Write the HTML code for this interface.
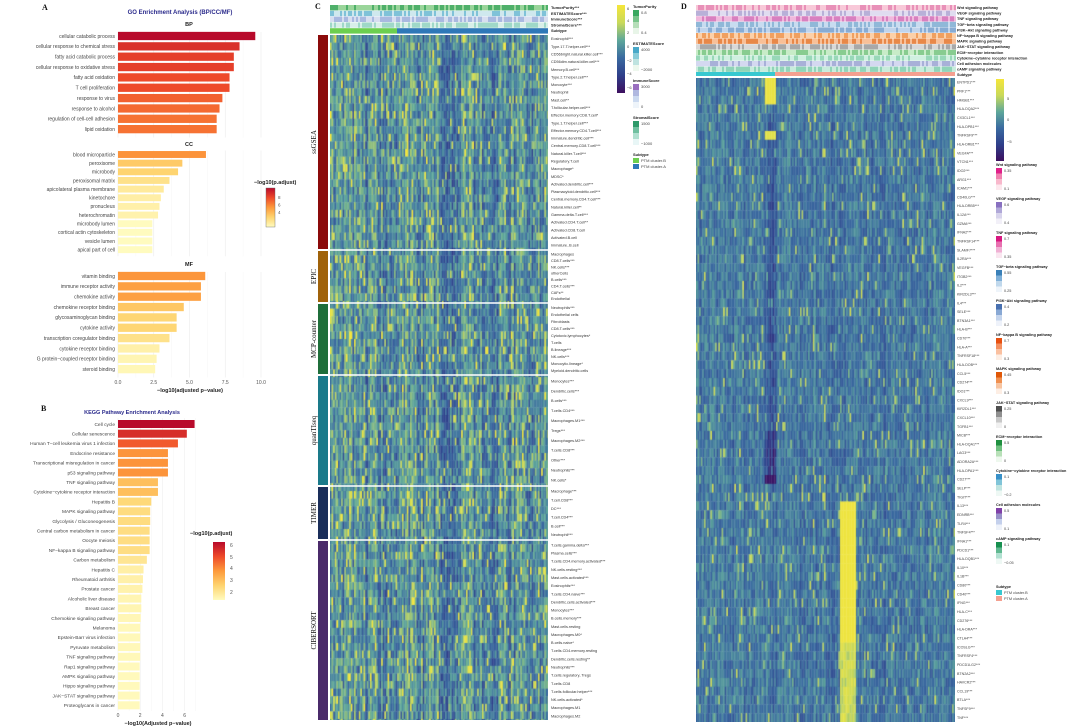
<!DOCTYPE html>
<html><head><meta charset="utf-8">
<style>
body{margin:0;width:1080px;height:728px;background:#fff;position:relative;overflow:hidden;font-family:"Liberation Sans",sans-serif}
canvas{position:absolute}
svg{position:absolute;left:0;top:0}
</style></head>
<body>
<canvas id="hmC" style="left:330px;top:35px" width="218" height="685"></canvas>
<canvas id="hmD" style="left:696px;top:78px" width="259" height="644"></canvas>
<svg id="fig" width="1080" height="728"></svg>
<script>
// ---------- Panel A data ----------
const bpTerms=["cellular catabolic process","cellular response to chemical stress","fatty acid catabolic process","cellular response to oxidative stress","fatty acid oxidation","T cell proliferation","response to virus","response to alcohol","regulation of cell-cell adhesion","lipid oxidation"];
const bpValues=[9.6,8.5,8.1,8.1,7.8,7.8,7.3,7.1,6.9,6.9];
const ccTerms=["blood microparticle","peroxisome","microbody","peroxisomal matrix","apicolateral plasma membrane","kinetochore","pronucleus","heterochromatin","microbody lumen","cortical actin cytoskeleton","vesicle lumen","apical part of cell"];
const ccValues=[6.15,4.5,4.2,3.6,3.2,3.0,2.9,2.8,2.4,2.4,2.4,2.4];
const mfTerms=["vitamin binding","immune receptor activity","chemokine activity","chemokine receptor binding","glycosaminoglycan binding","cytokine activity","transcription coregulator binding","cytokine receptor binding","G protein\u2212coupled receptor binding","steroid binding"];
const mfValues=[6.1,5.8,5.8,4.6,4.1,4.1,3.6,2.9,2.7,2.6];
const goTicks=[0,2.5,5,7.5,10];
const goTickLabels=["0.0","2.5","5.0","7.5","10.0"];
// ---------- Panel B data ----------
const keggTerms=["Cell cycle","Cellular senescence","Human T\u2212cell leukemia virus 1 infection","Endocrine resistance","Transcriptional misregulation in cancer","p53 signaling pathway","TNF signaling pathway","Cytokine\u2212cytokine receptor interaction","Hepatitis B","MAPK signaling pathway","Glycolysis / Gluconeogenesis","Central carbon metabolism in cancer","Oocyte meiosis","NF\u2212kappa B signaling pathway","Carbon metabolism","Hepatitis C","Rheumatoid arthritis","Prostate cancer","Alcoholic liver disease","Breast cancer","Chemokine signaling pathway","Melanoma","Epstein-Barr virus infection","Pyruvate metabolism","TNF signaling pathway","Rap1 signaling pathway","AMPK signaling pathway","Hippo signaling pathway","JAK\u2212STAT signaling pathway","Proteoglycans in cancer"];
const keggValues=[6.9,6.2,5.4,4.5,4.5,4.5,3.6,3.6,3.0,2.9,2.9,2.85,2.85,2.85,2.6,2.3,2.25,2.2,2.1,2.1,2.05,2.0,2.0,2.0,2.0,1.95,1.95,1.95,1.95,1.95];
const keggTicks=[0,2,4,6];

const NS="http://www.w3.org/2000/svg";
const svg=document.getElementById('fig');
function el(tag,attrs,parent){const e=document.createElementNS(NS,tag);for(const k in attrs)e.setAttribute(k,attrs[k]);(parent||svg).appendChild(e);return e;}
function txt(s,x,y,size,attrs,parent){const t=el('text',Object.assign({x:x,y:y,'font-size':size,fill:'#333','font-family':'Liberation Sans, sans-serif'},attrs||{}),parent);t.textContent=s;return t;}
function hex(c){return [parseInt(c.slice(1,3),16),parseInt(c.slice(3,5),16),parseInt(c.slice(5,7),16)];}
const ylStops=["#fffbbf","#fed470","#fd9a3c","#ee4a2a","#b80a2b"];
function ylOrRd(t){t=Math.max(0,Math.min(1,t));const p=t*(ylStops.length-1),i=Math.min(Math.floor(p),ylStops.length-2),f=p-i;const a=hex(ylStops[i]),b=hex(ylStops[i+1]);return 'rgb('+a.map((v,k)=>Math.round(v+(b[k]-v)*f)).join(',')+')';}

// ---------- Panel A ----------
const gA=el('g',{});

txt('A',42,10,8,{'font-weight':'bold','font-family':'Liberation Serif, serif',fill:'#111'},gA);
txt('GO Enrichment Analysis (BP/CC/MF)',180,14,6,{'text-anchor':'middle','font-weight':'bold',fill:'#2b2b8c'},gA);
const ax0=118, ax1=261, aMax=10;
const xA=v=>ax0+(ax1-ax0)*v/aMax;
const aMin=2.4,aTop=9.6;
function facet(name,terms,vals,y0,step,header){
  const g=el('g',{},gA);
  
  txt(name,189,header,5.5,{'text-anchor':'middle','font-weight':'bold',fill:'#222'},g);
  const yEnd=y0+step*terms.length;
  goTicks.forEach(t=>el('line',{x1:xA(t),x2:xA(t),y1:y0-4,y2:yEnd-2,stroke:'#ebebeb','stroke-width':0.6},g));
  [1.25,3.75,6.25,8.75].forEach(t=>el('line',{x1:xA(t),x2:xA(t),y1:y0-4,y2:yEnd-2,stroke:'#f4f4f4','stroke-width':0.4},g));
  terms.forEach((s,i)=>{const y=y0+i*step;
    const r=el('rect',{x:xA(0),y:y-step*0.4,width:xA(vals[i])-xA(0),height:step*0.8,fill:ylOrRd((vals[i]-aMin)/(aTop-aMin))},g);
    
    txt(s,115,y+1.8,5,{'text-anchor':'end',fill:'#444'},g);});
}
facet('BP',bpTerms,bpValues,36,10.35,26);
facet('CC',ccTerms,ccValues,154.5,8.65,146);
facet('MF',mfTerms,mfValues,276,10.35,266);
goTicks.forEach((t,i)=>txt(goTickLabels[i],xA(t),384,5,{'text-anchor':'middle',fill:'#555'},gA));
const xtA=txt('\u2212log10(adjusted p\u2212value)',190,392,5.5,{'text-anchor':'middle','font-weight':'bold',fill:'#222'},gA);

const defs=el('defs',{});
const lg=el('linearGradient',{id:'ylg',x1:0,y1:1,x2:0,y2:0},defs);
ylStops.forEach((c,i)=>el('stop',{offset:i/(ylStops.length-1),'stop-color':c},lg));
const legA=el('g',{},gA);
txt('\u2212log10(p.adjust)',254,184,5.5,{'font-weight':'bold',fill:'#222'},legA);
el('rect',{x:266,y:188,width:9,height:39,fill:'url(#ylg)',stroke:'#666','stroke-width':0.4},legA);
[[8,199],[6,206.5],[4,214]].forEach(([v,y])=>txt(String(v),278,y,4.5,{fill:'#555'},legA));

// ---------- Panel B ----------
const gB=el('g',{});
txt('B',41,411,8,{'font-weight':'bold','font-family':'Liberation Serif, serif',fill:'#111'},gB);
txt('KEGG Pathway Enrichment Analysis',132,414,5.5,{'text-anchor':'middle','font-weight':'bold',fill:'#2b2b8c'},gB);
const bx0=118, bPer=11.1;
const xB=v=>bx0+bPer*v;
const by0=424, bstep=9.7, bEnd=by0+bstep*keggTerms.length;
[0,1,2,3,4,5,6,7].forEach(t=>el('line',{x1:xB(t),x2:xB(t),y1:by0-6,y2:bEnd-4,stroke:t%2?'#f4f4f4':'#ebebeb','stroke-width':0.5},gB));
keggTerms.forEach((s,i)=>{const y=by0+i*bstep;
  const r=el('rect',{x:xB(0),y:y-4,width:xB(keggValues[i])-xB(0),height:8,fill:ylOrRd((keggValues[i]-1.9)/(6.9-1.9))},gB);
  
  txt(s,115,y+1.8,4.8,{'text-anchor':'end',fill:'#444'},gB);});
keggTicks.forEach(t=>txt(String(t),xB(t),717,5,{'text-anchor':'middle',fill:'#555'},gB));
const xtB=txt('\u2212log10(Adjusted p\u2212value)',158,725,5.5,{'text-anchor':'middle','font-weight':'bold',fill:'#222'},gB);

const legB=el('g',{},gB);
txt('\u2212log10(p.adjust)',190,535,5.5,{'font-weight':'bold',fill:'#222'},legB);
el('rect',{x:213,y:542,width:12,height:58,fill:'url(#ylg)'},legB);
[[6,547],[5,559],[4,570],[3,582],[2,594]].forEach(([v,y])=>txt(String(v),230,y,5,{fill:'#555'},legB));

// ---------- Panel C ----------
const gC=el('g',{});
txt('C',315,9,8,{'font-weight':'bold','font-family':'Liberation Serif, serif',fill:'#111'},gC);
const cGroups=[
 {name:'ssGSEA',y0:35,y1:249,color:'#8b0a0a',labels:["Eosinophil***","Type.17.T.helper.cell***","CD56bright.natural.killer.cell***","CD56dim.natural.killer.cell***","Memory.B.cell***","Type.2.T.helper.cell***","Monocyte***","Neutrophil","Mast.cell**","T.follicular.helper.cell***","Effector.memory.CD8.T.cell*","Type.1.T.helper.cell***","Effector.memory.CD4.T.cell***","Immature.dendritic.cell***","Central.memory.CD8.T.cell***","Natural.killer.T.cell***","Regulatory.T.cell","Macrophage*","MDSC*","Activated.dendritic.cell***","Plasmacytoid.dendritic.cell***","Central.memory.CD4.T.cell***","Natural.killer.cell**","Gamma.delta.T.cell***","Activated.CD4.T.cell**","Activated.CD8.T.cell","Activated.B.cell","Immature..B.cell"]},
 {name:'EPIC',y0:251,y1:302,color:'#a0620a',labels:["Macrophages","CD8.T.cells***","NK.cells***","otherCells","B.cells***","CD4.T.cells***","CAFs**","Endothelial"]},
 {name:'MCP-counter',y0:304,y1:374,color:'#1f6e3a',labels:["Neutrophils***","Endothelial cells","Fibroblasts","CD8.T.cells***","Cytotoxic.lymphocytes*","T.cells","B.lineage***","NK.cells***","Monocytic.lineage*","Myeloid.dendritic.cells"]},
 {name:'quanTIseq',y0:376,y1:485,color:'#1a7a8a',labels:["Monocytes***","Dendritic.cells***","B.cells***","T.cells.CD4***","Macrophages.M1***","Tregs***","Macrophages.M2***","T.cells.CD8***","Other***","Neutrophils***","NK.cells*"]},
 {name:'TIMER',y0:487,y1:539,color:'#1a2e5a',labels:["Macrophage***","T.cell.CD8***","DC***","T.cell.CD4***","B.cell***","Neutrophil***"]},
 {name:'CIBERSORT',y0:541,y1:720,color:'#4a2a6a',labels:["T.cells.gamma.delta***","Plasma.cells***","T.cells.CD4.memory.activated***","NK.cells.resting***","Mast.cells.activated***","Eosinophils***","T.cells.CD4.naive***","Dendritic.cells.activated***","Monocytes***","B.cells.memory***","Mast.cells.resting","Macrophages.M0*","B.cells.naive*","T.cells.CD4.memory.resting","Dendritic.cells.resting**","Neutrophils***","T.cells.regulatory..Tregs","T.cells.CD8","T.cells.follicular.helper***","NK.cells.activated*","Macrophages.M1","Macrophages.M2"]}
];
cGroups.forEach(gr=>{
  const g=el('g',{},gC);
  el('rect',{x:318,y:gr.y0,width:10,height:gr.y1-gr.y0,fill:gr.color},g);
  const cy=(gr.y0+gr.y1)/2;
  txt(gr.name,0,0,7,{transform:'translate(316,'+cy+') rotate(-90)','text-anchor':'middle','font-family':'Liberation Serif, serif',fill:'#111'},g);
  const st=(gr.y1-gr.y0)/gr.labels.length;
  gr.labels.forEach((s,i)=>txt(s,551,gr.y0+st*(i+0.5)+1.4,3.8,{fill:'#333'},g));
  el('line',{x1:330,x2:548,y1:gr.y1+1,y2:gr.y1+1,stroke:'#fff','stroke-width':1.5},g);
});
const cAnnNames=["TumorPurity***","ESTIMATEScore***","ImmuneScore***","StromalScore***","Subtype"];
const cAnnCols=[["#9ad59a","#4fb06a"],["#cfe8ee","#7fc2d8"],["#d8def0","#a9b9e0"],["#d8efe8","#9fd8c8"]];
const cAnn=el('g',{},gC);
cAnnNames.forEach((s,i)=>{const y=5+i*5.8;
  if(i<4){for(let x=330;x<548;x+=2){const h=Math.abs(Math.sin(x*12.9898+i*78.233)*43758.5453)%1;el('rect',{x:x,y:y,width:2,height:5.4,fill:h>0.5?cAnnCols[i][1]:cAnnCols[i][0]},cAnn);}}
  else{el('rect',{x:330,y:y,width:67,height:5.4,fill:'#6ccf4f'},cAnn);el('rect',{x:397,y:y,width:151,height:5.4,fill:'#2e78b8'},cAnn);}
  txt(s,551,y+4,4,{'font-weight':'bold',fill:'#222'},cAnn);});
const vir=["#3d0f5e","#2f3f8a","#3a6aa0","#5ea79a","#c9d95a","#f5e63a"];
const vg=el('linearGradient',{id:'virg',x1:0,y1:1,x2:0,y2:0},defs);
vir.forEach((c,i)=>el('stop',{offset:i/(vir.length-1),'stop-color':c},vg));
const legC=el('g',{},gC);
el('rect',{x:617,y:5,width:8,height:88,fill:'url(#virg)'},legC);
[["6",10],["4",22],["2",34],["0",48],["\u22122",62],["\u22124",75],["\u22126",89]].forEach(([s,y])=>txt(s,627,y,4,{fill:'#444'},legC));
function ramp(title,y,cols,labs,g){txt(title,633,y,4,{'font-weight':'bold',fill:'#222'},g);
  cols.forEach((c,i)=>el('rect',{x:633,y:y+2+i*6,width:6,height:6,fill:c},g));
  txt(labs[0],641,y+6,4,{fill:'#444'},g);txt(labs[1],641,y+2+cols.length*6,4,{fill:'#444'},g);}
ramp('TumorPurity',8,["#3aa860","#78c48a","#b5deb8","#e8f5e8"],["0.8","0.4"],legC);
ramp('ESTIMATEScore',45,["#48a8c8","#88cbd8","#bfe3e0","#eef8ee"],["4000","\u22122000"],legC);
ramp('ImmuneScore',82,["#9a70c0","#b0b8e0","#ccdaf0","#eef4fa"],["3000","0"],legC);
ramp('StromalScore',119,["#2e9a6a","#70c0a0","#b0e0d0","#e8f6f6"],["1500","\u22121000"],legC);
txt('Subtype',633,156,4,{'font-weight':'bold',fill:'#222'},legC);
el('rect',{x:633,y:158,width:6,height:5,fill:'#6ccf4f'},legC);txt('PTM cluster.B',641,162,4,{fill:'#444'},legC);
el('rect',{x:633,y:164,width:6,height:5,fill:'#2e78b8'},legC);txt('PTM cluster.A',641,168,4,{fill:'#444'},legC);

// ---------- Panel D ----------
const gD=el('g',{});
txt('D',681,9,8,{'font-weight':'bold','font-family':'Liberation Serif, serif',fill:'#111'},gD);
const dPath=["Wnt signaling pathway","VEGF signaling pathway","TNF signaling pathway","TGF\u2212beta signaling pathway","PI3K\u2212Akt signaling pathway","NF\u2212kappa B signaling pathway","MAPK signaling pathway","JAK\u2212STAT signaling pathway","ECM\u2212receptor interaction","Cytokine\u2212cytokine receptor interaction","Cell adhesion molecules","cAMP signaling pathway"];
const dCols=[["#f8c8d8","#e890b8"],["#e0dcf0","#b8b0d8"],["#f0b8dc","#d880c0"],["#c8dcf0","#90b8d8"],["#c0d4ec","#88acd4"],["#fcd0a8","#f0a060"],["#f8c098","#e88848"],["#d8d8d8","#a8a8a8"],["#c8ecc8","#88cc90"],["#d0f0e0","#98d8b8"],["#d4d8f0","#a8b0d8"],["#c8ecdc","#90d4b8"]];
const dAnn=el('g',{},gD);
dPath.forEach((s,i)=>{const y=5+i*5.6;
  for(let x=696;x<955;x+=2){const h=Math.abs(Math.sin(x*7.13+i*31.7)*9137.17)%1;el('rect',{x:x,y:y,width:2,height:5.3,fill:h>0.5?dCols[i][1]:dCols[i][0]},dAnn);}
  txt(s,957,y+4,3.8,{'font-weight':'bold',fill:'#222'},dAnn);});
el('rect',{x:696,y:72,width:79,height:4,fill:'#38c8d0'},dAnn);el('rect',{x:775,y:72,width:180,height:4,fill:'#f4a090'},dAnn);
txt('Subtype',957,76,3.8,{'font-weight':'bold',fill:'#222'},dAnn);
const dGenes=["ENTPD1***","PRF1***","HMGB1***","HLA-DQA2***","CX3CL1***","HLA-DPB1***","TNFRSF9***","HLA-DRB1***","VEGFA***","VTCN1***","IDO2***","ARG1***","ICAM1***","CD40LG***","HLA-DRB5***","IL12A***","GZMA***","IFNA2***","TNFRSF14***","SLAMF7***","IL2RA***","VEGFB***","ITGB2***","IL2***","KIR2DL3***","IL4***","SELE***","BTN3A1***","HLA-B***","CD70***","HLA-A***","TNFRSF18***","HLA-DOB***","CCL5***","CD274***","IDO1***","CXCL9***","KIR2DL1***","CXCL10***","TGFB1***","MICB***","HLA-DQA1***","LAG3***","ADORA2A***","HLA-DPA1***","CD27***","SELP***","TIGIT***","IL13***","EDNRB***","TLR4***","TNFSF4***","IFNA1***","PDCD1***","HLA-DQB1***","IL10***","IL1B***","CD80***","CD40***","IFNG***","HLA-C***","CD276***","HLA-DRA***","CTLA4***","ICOSLG***","TNFRSF4***","PDCD1LG2***","BTN2A2***","HAVCR2***","CCL19***","BTLA***","TNFSF9***","TNF***"];
const dLab=el('g',{},gD);
const dst=644/dGenes.length;
dGenes.forEach((s,i)=>txt(s,957,78+dst*(i+0.5)+1.3,3.6,{fill:'#444'},dLab));
const legD=el('g',{},gD);
el('rect',{x:996,y:79,width:8,height:82,fill:'url(#virg)'},legD);
[["5",100],["0",121],["\u22125",143]].forEach(([s,y])=>txt(s,1007,y,4,{fill:'#444'},legD));
const dLeg=[["Wnt signaling pathway",166,["#e0208a","#f080b0","#f8b8cc","#fde8ee"],["0.35","0.1"]],
["VEGF signaling pathway",200,["#8870c0","#b0a8d8","#d8d4ec","#f2f0f8"],["0.6","0.4"]],
["TNF signaling pathway",234,["#d81880","#e870b0","#f0b0d4","#fae6f0"],["0.7","0.35"]],
["TGF\u2212beta signaling pathway",268,["#3a80b8","#80b0d8","#c0d8ec","#eef4fa"],["0.55","0.25"]],
["PI3K\u2212Akt signaling pathway",302,["#4870b0","#88a8d4","#c4d4ec","#eef2fa"],["0.4","0.2"]],
["NF\u2212kappa B signaling pathway",336,["#e85010","#f49060","#fac0a0","#fdeee4"],["0.7","0.3"]],
["MAPK signaling pathway",370,["#e05808","#f09050","#f8c4a0","#fdeee4"],["0.45","0.3"]],
["JAK\u2212STAT signaling pathway",404,["#505050","#909090","#c8c8c8","#f0f0f0"],["0.25","0"]],
["ECM\u2212receptor interaction",438,["#209040","#70c080","#b8e0b8","#eef8ee"],["0.5","0"]],
["Cytokine\u2212cytokine receptor interaction",472,["#3890c8","#80c4d8","#c0e4e0","#eef8f4"],["0.1","\u22120.2"]],
["Cell adhesion molecules",506,["#8040a8","#9890c8","#c4d0ec","#eef2fa"],["0.5","0.1"]],
["cAMP signaling pathway",540,["#189050","#60b890","#b0e0d0","#eef8f4"],["0.1","\u22120.05"]]];
dLeg.forEach(([t,y,cols,labs])=>{txt(t,996,y,3.8,{'font-weight':'bold',fill:'#222'},legD);
  cols.forEach((c,i)=>el('rect',{x:996,y:y+2+i*5.5,width:6,height:5.5,fill:c},legD));
  txt(labs[0],1004,y+6,3.8,{fill:'#444'},legD);txt(labs[1],1004,y+2+cols.length*5.5,3.8,{fill:'#444'},legD);});
txt('Subtype',996,588,3.8,{'font-weight':'bold',fill:'#222'},legD);
el('rect',{x:996,y:590,width:6,height:5,fill:'#38c8d0'},legD);txt('PTM cluster.B',1004,594,3.8,{fill:'#444'},legD);
el('rect',{x:996,y:596,width:6,height:5,fill:'#f4a090'},legD);txt('PTM cluster.A',1004,600,3.8,{fill:'#444'},legD);

// ---------- heatmap texture (deterministic) ----------
function hsh(i,j){const v=Math.sin(i*12.9898+j*78.233)*43758.5453;return v-Math.floor(v);}
function vcol(t){t=Math.max(0,Math.min(1,t));const p=t*(vir.length-1),i=Math.min(Math.floor(p),vir.length-2),f=p-i;const a=hex(vir[i]),b=hex(vir[i+1]);return 'rgb('+a.map((v,k)=>Math.round(v+(b[k]-v)*f)).join(',')+')';}
(function(){const c=document.getElementById('hmC').getContext('2d');
  const cw=1.6,rh=7.6;
  for(let j=0;j*cw<218;j++){const ce=hsh(j,0.5);
    for(let r=0;r*rh<685;r++){const v=0.34+0.3*ce+0.32*(hsh(r+3,j)-0.5)+(hsh(r,j*3)>0.9?0.32:0);
      c.fillStyle=vcol(v);c.fillRect(j*cw,r*rh,cw+0.3,rh+0.3);}}
})();
(function(){const c=document.getElementById('hmD').getContext('2d');
  const cw=1.6,rh=644/73;
  for(let j=0;j*cw<259;j++){const ce=hsh(j,1.7);
    for(let r=0;r<73;r++){let v=0.37+0.12*ce+0.22*(hsh(r+7,j)-0.5)+(hsh(r,j*5)>0.93?0.28:0);
      const x=j*cw+696;
      if(x>=764&&x<776&&r<3)v=0.95;
      if(x>=764&&x<776&&r===6)v=0.9;
      if(x>=764&&x<776&&r>=4&&r<=45&&r!==6)v-=0.12+(r>=40?0.12:0);
      if(x>=764&&x<776&&r===45)v=0.03;
      if(x>=840&&x<855&&r>=48&&r<=63)v=0.97;
      if(x>=840&&x<855&&r>63)v=0.72+0.2*hsh(r,j);
      c.fillStyle=vcol(v);c.fillRect(j*cw,r*rh,cw+0.3,rh+0.3);}}
})();
</script>
</body></html>
